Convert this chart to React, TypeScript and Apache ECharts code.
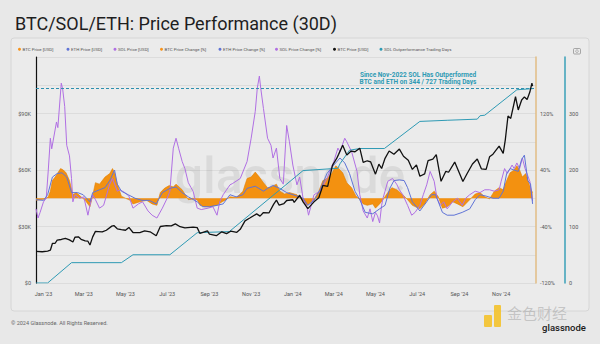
import React, { useEffect, useRef } from 'react';
import * as echarts from 'echarts';

const START = '2022-12-21';
const END = '2024-12-22';
const MONTHS = ['Jan','Feb','Mar','Apr','May','Jun','Jul','Aug','Sep','Oct','Nov','Dec'];

const legendNames = ['BTC Price [USD]','ETH Price [USD]','SOL Price [USD]','BTC Price Change [%]','ETH Price Change [%]','SOL Price Change [%]','BTC Price [USD]','SOL Outperformance Trading Days'];
const legendColors = ['#f7931a','#5f73d6','#b06fe3','#f7931a','#5f73d6','#b06fe3','#111111','#2e9ab4'];

const btcPrice: [string, number][] = [
['2022-12-21',16800],['2022-12-30',16600],['2023-01-07',16950],['2023-01-11',17400],['2023-01-14',21000],['2023-01-18',21100],['2023-01-21',22800],['2023-01-27',23100],['2023-02-02',23700],['2023-02-08',22900],['2023-02-13',21800],['2023-02-16',24300],['2023-02-21',24500],['2023-02-25',23200],['2023-03-03',22400],['2023-03-07',22200],['2023-03-10',20200],['2023-03-14',24500],['2023-03-18',27400],['2023-03-22',27300],['2023-03-28',27100],['2023-04-03',28000],['2023-04-11',30200],['2023-04-14',30500],['2023-04-19',28800],['2023-04-25',28300],['2023-05-01',28000],['2023-05-06',29500],['2023-05-12',26800],['2023-05-22',26800],['2023-05-29',27700],['2023-06-06',27200],['2023-06-15',25100],['2023-06-21',30000],['2023-06-30',30500],['2023-07-07',30300],['2023-07-13',31400],['2023-07-20',29900],['2023-07-27',29300],['2023-08-08',29700],['2023-08-14',29400],['2023-08-18',26300],['2023-08-29',27700],['2023-09-01',25900],['2023-09-11',25100],['2023-09-19',27200],['2023-09-26',26200],['2023-10-02',27500],['2023-10-11',26900],['2023-10-16',28500],['2023-10-23',33000],['2023-10-30',34500],['2023-11-09',36700],['2023-11-14',35500],['2023-11-19',37400],['2023-11-27',37200],['2023-12-04',41900],['2023-12-08',44000],['2023-12-12',41300],['2023-12-19',42200],['2023-12-23',43800],['2024-01-01',44200],['2024-01-03',42800],['2024-01-11',46600],['2024-01-16',43100],['2024-01-23',39500],['2024-02-01',43100],['2024-02-08',45300],['2024-02-14',51800],['2024-02-21',51300],['2024-02-28',62500],['2024-03-05',66000],['2024-03-08',68300],['2024-03-14',73100],['2024-03-20',67900],['2024-03-26',70000],['2024-04-01',69700],['2024-04-08',71600],['2024-04-13',64000],['2024-04-19',64900],['2024-04-24',64300],['2024-05-01',57800],['2024-05-06',63100],['2024-05-10',60800],['2024-05-15',66200],['2024-05-21',70100],['2024-05-28',68400],['2024-06-05',71100],['2024-06-11',67300],['2024-06-18',65200],['2024-06-24',60300],['2024-06-30',62700],['2024-07-05',56700],['2024-07-12',57900],['2024-07-17',65000],['2024-07-24',65800],['2024-07-29',68200],['2024-08-05',54000],['2024-08-12',59300],['2024-08-16',58800],['2024-08-25',64200],['2024-09-06',53900],['2024-09-12',58000],['2024-09-20',63200],['2024-09-27',65800],['2024-10-03',60600],['2024-10-10',60300],['2024-10-15',67000],['2024-10-20',68400],['2024-10-29',72700],['2024-11-04',68800],['2024-11-07',75900],['2024-11-11',88700],['2024-11-15',87400],['2024-11-22',98900],['2024-11-26',91900],['2024-12-01',97200],['2024-12-05',98800],['2024-12-09',97400],['2024-12-13',101400],['2024-12-16',106100],['2024-12-17',104500]
];

const btcChange: [string, number][] = [
['2022-12-21',-3],['2022-12-27',-2],['2023-01-03',-1],['2023-01-08',2],['2023-01-11',10],['2023-01-14',25],['2023-01-18',30],['2023-01-22',36],['2023-01-26',42],['2023-01-30',40],['2023-02-03',36],['2023-02-08',25],['2023-02-13',5],['2023-02-18',8],['2023-02-25',2],['2023-03-03',-3],['2023-03-10',-12],['2023-03-14',4],['2023-03-18',22],['2023-03-24',20],['2023-04-01',30],['2023-04-08',35],['2023-04-12',42],['2023-04-15',36],['2023-04-19',20],['2023-04-25',3],['2023-05-01',0],['2023-05-08',-3],['2023-05-12',-8],['2023-05-22',-5],['2023-06-01',-3],['2023-06-09',-8],['2023-06-16',-10],['2023-06-21',8],['2023-06-27',14],['2023-07-04',18],['2023-07-10',16],['2023-07-14',20],['2023-07-23',12],['2023-08-01',-2],['2023-08-08',-1],['2023-08-14',-2],['2023-08-18',-10],['2023-08-25',-12],['2023-09-01',-12],['2023-09-12',-10],['2023-09-18',-6],['2023-09-25',-2],['2023-10-01',2],['2023-10-10',1],['2023-10-16',6],['2023-10-20',10],['2023-10-26',28],['2023-11-01',30],['2023-11-07',37],['2023-11-13',30],['2023-11-19',22],['2023-11-25',15],['2023-12-01',16],['2023-12-08',20],['2023-12-13',10],['2023-12-20',6],['2023-12-27',8],['2024-01-07',5],['2024-01-16',-4],['2024-01-22',-10],['2024-01-28',-5],['2024-02-01',-2],['2024-02-08',10],['2024-02-14',25],['2024-02-20',28],['2024-02-27',35],['2024-03-04',46],['2024-03-08',42],['2024-03-14',36],['2024-03-20',22],['2024-03-27',15],['2024-04-02',4],['2024-04-08',-2],['2024-04-13',-8],['2024-04-19',-10],['2024-04-27',-8],['2024-05-01',-14],['2024-05-07',-8],['2024-05-12',-2],['2024-05-19',8],['2024-05-25',15],['2024-06-01',12],['2024-06-10',5],['2024-06-17',-2],['2024-06-24',-10],['2024-07-05',-15],['2024-07-12',-8],['2024-07-20',5],['2024-07-26',10],['2024-08-01',2],['2024-08-07',-14],['2024-08-14',-12],['2024-08-22',-5],['2024-08-29',-8],['2024-09-06',-12],['2024-09-16',-2],['2024-09-24',6],['2024-10-01',8],['2024-10-08',2],['2024-10-15',-1],['2024-10-22',10],['2024-10-29',15],['2024-11-04',12],['2024-11-09',25],['2024-11-14',36],['2024-11-20',40],['2024-11-24',46],['2024-11-28',40],['2024-12-02',30],['2024-12-07',35],['2024-12-12',20],['2024-12-15',12],['2024-12-17',8]
];

const ethChange: [string, number][] = [
['2022-12-21',-2],['2023-01-01',-3],['2023-01-07',5],['2023-01-14',30],['2023-01-21',35],['2023-01-28',36],['2023-02-04',30],['2023-02-11',8],['2023-02-20',8],['2023-02-28',5],['2023-03-10',-5],['2023-03-14',8],['2023-03-24',12],['2023-04-01',15],['2023-04-08',25],['2023-04-15',40],['2023-04-19',20],['2023-04-25',10],['2023-05-05',5],['2023-05-15',0],['2023-05-25',-3],['2023-06-05',-3],['2023-06-15',-8],['2023-06-24',8],['2023-07-05',14],['2023-07-14',16],['2023-07-23',8],['2023-08-01',2],['2023-08-14',-5],['2023-08-22',-12],['2023-09-01',-12],['2023-09-12',-10],['2023-09-21',-8],['2023-10-01',5],['2023-10-10',2],['2023-10-20',5],['2023-10-26',14],['2023-11-07',17],['2023-11-19',10],['2023-11-25',14],['2023-12-03',18],['2023-12-13',14],['2023-12-23',8],['2024-01-07',3],['2024-01-16',0],['2024-01-23',-10],['2024-02-01',-3],['2024-02-10',12],['2024-02-20',35],['2024-03-01',47],['2024-03-10',57],['2024-03-17',50],['2024-03-24',35],['2024-04-01',10],['2024-04-08',-2],['2024-04-16',-20],['2024-04-27',-22],['2024-05-07',-15],['2024-05-15',-10],['2024-05-22',14],['2024-05-28',25],['2024-06-05',26],['2024-06-12',25],['2024-06-17',15],['2024-06-24',-5],['2024-07-05',-18],['2024-07-15',-5],['2024-07-22',5],['2024-07-28',5],['2024-08-07',-20],['2024-08-14',-24],['2024-08-24',-24],['2024-09-05',-20],['2024-09-16',-15],['2024-09-24',-2],['2024-10-01',5],['2024-10-10',3],['2024-10-20',0],['2024-10-29',0],['2024-11-04',10],['2024-11-09',35],['2024-11-14',42],['2024-11-20',40],['2024-11-26',38],['2024-12-01',55],['2024-12-05',61],['2024-12-10',25],['2024-12-14',20],['2024-12-17',-8]
];

const solChange: [string, number][] = [
['2022-12-21',-15],['2022-12-24',-28],['2022-12-27',-20],['2023-01-01',-5],['2023-01-05',0],['2023-01-08',40],['2023-01-11',85],['2023-01-13',70],['2023-01-20',108],['2023-01-22',100],['2023-01-27',163],['2023-01-29',155],['2023-02-01',130],['2023-02-04',75],['2023-02-08',60],['2023-02-11',28],['2023-02-13',-5],['2023-02-16',5],['2023-02-23',0],['2023-03-01',2],['2023-03-07',-24],['2023-03-10',-10],['2023-03-14',5],['2023-03-18',-2],['2023-03-24',-14],['2023-03-30',-10],['2023-04-08',20],['2023-04-12',28],['2023-04-15',20],['2023-04-19',10],['2023-04-23',12],['2023-04-30',8],['2023-05-06',3],['2023-05-12',-14],['2023-05-20',-8],['2023-05-26',-5],['2023-06-03',-18],['2023-06-09',-24],['2023-06-16',-28],['2023-06-24',-14],['2023-07-01',0],['2023-07-05',10],['2023-07-10',71],['2023-07-14',85],['2023-07-18',70],['2023-07-23',52],['2023-07-27',42],['2023-08-01',22],['2023-08-05',15],['2023-08-08',10],['2023-08-14',-14],['2023-08-20',-16],['2023-08-30',-14],['2023-09-06',-12],['2023-09-12',-24],['2023-09-16',-5],['2023-09-21',5],['2023-10-01',19],['2023-10-05',21],['2023-10-16',28],['2023-10-26',52],['2023-11-01',85],['2023-11-07',123],['2023-11-10',156],['2023-11-13',173],['2023-11-15',156],['2023-11-19',127],['2023-11-25',85],['2023-11-30',75],['2023-12-03',57],['2023-12-08',71],['2023-12-13',28],['2023-12-18',20],['2023-12-23',103],['2023-12-27',80],['2024-01-01',47],['2024-01-07',19],['2024-01-11',30],['2024-01-16',0],['2024-01-22',-14],['2024-01-24',-24],['2024-02-01',5],['2024-02-10',10],['2024-02-20',28],['2024-03-01',52],['2024-03-07',71],['2024-03-10',66],['2024-03-17',85],['2024-03-20',80],['2024-03-27',66],['2024-04-04',38],['2024-04-08',5],['2024-04-13',-18],['2024-04-19',-28],['2024-04-23',-15],['2024-04-27',-33],['2024-05-01',-20],['2024-05-04',-25],['2024-05-07',-35],['2024-05-10',-10],['2024-05-12',0],['2024-05-15',10],['2024-05-19',24],['2024-05-26',28],['2024-06-01',20],['2024-06-05',12],['2024-06-10',5],['2024-06-17',-10],['2024-06-23',-24],['2024-06-28',-20],['2024-07-05',-10],['2024-07-10',5],['2024-07-15',19],['2024-07-20',38],['2024-07-26',24],['2024-07-30',0],['2024-08-04',-10],['2024-08-09',-5],['2024-08-14',-15],['2024-08-22',-5],['2024-08-29',0],['2024-09-05',-10],['2024-09-10',0],['2024-09-16',5],['2024-09-24',10],['2024-10-01',8],['2024-10-08',12],['2024-10-15',12],['2024-10-22',10],['2024-10-29',12],['2024-11-01',24],['2024-11-06',42],['2024-11-10',35],['2024-11-17',47],['2024-11-20',42],['2024-11-24',50],['2024-11-28',42],['2024-12-02',57],['2024-12-06',42],['2024-12-13',24],['2024-12-17',-4]
];

const solDays: [string, number][] = [
['2022-12-21',0],['2023-01-07',0],['2023-02-11',36],['2023-04-25',36],['2023-05-12',50],['2023-07-05',50],['2023-08-14',89],['2023-09-30',91],['2023-10-01',92],['2024-01-16',199],['2024-03-07',203],['2024-03-10',211],['2024-03-24',235],['2024-04-08',238],['2024-05-14',238],['2024-07-05',286],['2024-08-14',288],['2024-09-27',290],['2024-10-01',296],['2024-10-08',297],['2024-11-24',342],['2024-12-17',344]
];

const outperformDays = 344;
const annotationLines = ['Since Nov-2022 SOL Has Outperformed', 'BTC and ETH on 344 / 727 Trading Days'];

function dayList(start: string, end: string): string[] {
  const out: string[] = [];
  const d = new Date(start + 'T00:00:00Z');
  const e = new Date(end + 'T00:00:00Z');
  while (d <= e) {
    out.push(d.toISOString().slice(0, 10));
    d.setUTCDate(d.getUTCDate() + 1);
  }
  return out;
}

export default function App() {
  const ref = useRef<HTMLDivElement>(null);
  useEffect(() => {
    if (!ref.current) return;
    const chart = echarts.init(ref.current, undefined, { renderer: 'svg' });
    const days = dayList(START, END);
    const font = 'Roboto, sans-serif';
    const lab = { fontSize: 5.5, color: '#555', fontFamily: font };
    const legendX = [19.5, 68, 115, 161.5, 220, 276.5, 334.5, 381];
    const graphic: any[] = [
      { type: 'rect', z: -10, shape: { x: 11, y: 38, width: 578, height: 273, r: 3 }, style: { fill: '#ebebeb', stroke: '#d6d6d6', lineWidth: 1 } },
      { type: 'text', z: 1, x: 290, y: 176, style: { text: 'glassnode', fill: 'rgba(0,0,0,0.07)', fontSize: 50, fontFamily: font, fontWeight: 500, align: 'center', verticalAlign: 'middle' } },
      { type: 'rect', shape: { x: 573.5, y: 48.5, width: 7, height: 5.5, r: 1 }, style: { fill: 'none', stroke: '#888', lineWidth: 0.7 } },
      { type: 'circle', shape: { cx: 577, cy: 51.2, r: 1.3 }, style: { fill: 'none', stroke: '#888', lineWidth: 0.6 } },
      { type: 'text', x: 11, y: 323, style: { text: '© 2024 Glassnode. All Rights Reserved.', fill: '#666', fontSize: 5.5, fontFamily: font, verticalAlign: 'middle' } },
      { type: 'rect', shape: { x: 484, y: 315, width: 8, height: 12, r: 1 }, style: { fill: '#f4c22b', opacity: 0.9 } },
      { type: 'rect', shape: { x: 494, y: 305, width: 7, height: 22, r: 1 }, style: { fill: '#f4c22b', opacity: 0.9 } },
      { type: 'text', x: 537, y: 312, style: { text: '金色财经', fill: 'rgba(150,150,150,0.45)', fontSize: 15, fontFamily: 'Noto Sans CJK SC', align: 'center', verticalAlign: 'middle' } },
      { type: 'text', x: 564, y: 327, style: { text: 'glassnode', fill: '#1a1a1a', fontSize: 9.5, fontFamily: font, fontWeight: 500, align: 'center', verticalAlign: 'middle' } },
    ];
    annotationLines.forEach((t, i) => {
      graphic.push({ type: 'text', x: 418, y: 74.8 + i * 7.4, style: { text: t, fill: '#2e9ab4', fontSize: 6.5, fontWeight: 'bold', fontFamily: font, align: 'center', verticalAlign: 'middle' } });
    });
    legendNames.forEach((n, i) => {
      graphic.push({ type: 'circle', shape: { cx: legendX[i], cy: 49.3, r: 1.5 }, style: { fill: legendColors[i] } });
      graphic.push({ type: 'text', x: legendX[i] + 3, y: 49.3, style: { text: n, fill: '#555', fontSize: 4.4, fontFamily: font, verticalAlign: 'middle' } });
    });

    chart.setOption({
      animation: false,
      backgroundColor: '#e8e8e8',
      title: { text: 'BTC/SOL/ETH: Price Performance (30D)', left: 10, top: 9, textStyle: { fontSize: 18, color: '#1e1e1e', fontFamily: font, fontWeight: 'normal' } },
      graphic,
      grid: { left: 36, right: 64, top: 57, bottom: 61 },
      xAxis: {
        type: 'category', data: days, boundaryGap: false,
        axisLine: { show: false }, axisTick: { show: false }, splitLine: { show: false },
        axisLabel: {
          ...lab, margin: 8,
          interval: (_i: number, v: string) => v.endsWith('-01') && (+v.slice(5, 7)) % 2 === 1,
          formatter: (v: string) => `${MONTHS[+v.slice(5, 7) - 1]} '${v.slice(2, 4)}`,
        },
      },
      yAxis: [
        {
          type: 'value', min: 0, max: 120000, interval: 15000, position: 'left',
          axisLine: { show: true, lineStyle: { color: '#111', width: 1.2 } }, axisTick: { show: false },
          splitLine: { show: true, lineStyle: { color: '#d8d8d8', width: 0.8 } },
          axisLabel: { ...lab, margin: 5, formatter: (v: number) => (v % 30000 === 0 && v < 120000 ? (v === 0 ? '$0' : `$${v / 1000}K`) : '') },
        },
        {
          type: 'value', min: -120, max: 200, interval: 40, position: 'right', offset: 0,
          axisLine: { show: true, lineStyle: { color: '#e2bd85', width: 1.5 } }, axisTick: { show: false }, splitLine: { show: false },
          axisLabel: { ...lab, margin: 4, formatter: (v: number) => ((v + 120) % 80 === 0 && v < 200 ? `${v}%` : '') },
        },
        {
          type: 'value', min: 0, max: 400, interval: 50, position: 'right', offset: 29,
          axisLine: { show: true, lineStyle: { color: '#3aa0b8', width: 1.5 } }, axisTick: { show: false }, splitLine: { show: false },
          axisLabel: { ...lab, margin: 4, formatter: (v: number) => (v % 100 === 0 && v < 400 ? String(v) : '') },
        },
      ],
      series: [
        { name: 'BTC Price Change [%]', type: 'line', yAxisIndex: 1, data: btcChange, symbol: 'none', lineStyle: { color: '#e07f00', width: 0.6 }, areaStyle: { color: '#f39110', opacity: 1 }, z: 2 },
        { name: 'SOL Price Change [%]', type: 'line', yAxisIndex: 1, data: solChange, symbol: 'none', lineStyle: { color: '#b06fe3', width: 1 }, z: 3 },
        { name: 'ETH Price Change [%]', type: 'line', yAxisIndex: 1, data: ethChange, symbol: 'none', lineStyle: { color: '#5f73d6', width: 1 }, z: 4 },
        {
          name: 'SOL Outperformance Trading Days', type: 'line', yAxisIndex: 2, data: solDays, symbol: 'none', lineStyle: { color: '#2e9ab4', width: 1 }, z: 5,
          markLine: { symbol: 'none', silent: true, label: { show: false }, lineStyle: { color: '#2e8fae', type: [3, 2], width: 1 }, data: [{ yAxis: outperformDays }] },
        },
        { name: 'BTC Price [USD]', type: 'line', yAxisIndex: 0, data: btcPrice, symbol: 'none', lineStyle: { color: '#111', width: 1.3 }, z: 6 },
      ],
    });
    return () => chart.dispose();
  }, []);
  return <div ref={ref} style={{ position: 'absolute', left: 0, top: 0, width: 600, height: 344 }} />;
}
